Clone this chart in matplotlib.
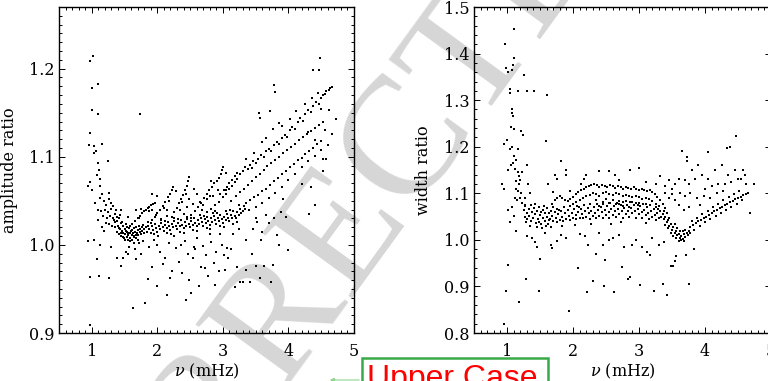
import matplotlib
matplotlib.use("Agg")
import matplotlib.pyplot as plt
from matplotlib.patches import Rectangle, FancyArrowPatch
from matplotlib.ticker import MultipleLocator

# ---- amplitude ratio panel (nu in mHz, ratio) ----
amp_lowfreq = [(0.97,1.209),(1.02,1.214),(1.01,1.178),(1.10,1.183),(1.01,1.153),(1.09,1.149),(0.97,1.127),
    (0.96,1.113),(1.03,1.112),(1.06,1.106),(1.04,1.104),(1.16,1.115),(1.10,1.093),(1.24,1.095),(1.11,1.085),
    (1.08,1.079),(1.13,1.075),(0.94,1.067),(0.98,1.071),(1.00,1.062),(1.13,1.067),(1.15,1.058),(1.26,1.059),
    (1.12,1.053),(1.05,1.048),(1.18,1.050),(1.22,1.045),(1.27,1.052),(1.30,1.048),(1.09,1.040),(1.14,1.038),
    (1.20,1.040),(1.25,1.037),(1.29,1.041),(1.33,1.044),(1.17,1.033),(1.23,1.030),(1.28,1.033),(1.32,1.030),
    (1.36,1.035),(1.10,1.028),(1.21,1.025),(1.26,1.024),(1.31,1.022),(1.35,1.026),(1.15,1.020),(1.19,1.016),
    (0.94,1.004),(1.03,1.006),(1.12,1.000),(0.97,0.964),(0.98,0.909),(1.08,0.984),(1.11,0.965),(1.26,0.962),
    (1.30,0.998),(1.38,0.985),(1.73,1.149)]

amp_band = [(1.36,1.020),(1.38,1.027),(1.39,1.015),(1.40,1.022),(1.41,1.030),(1.42,1.012),(1.43,1.018),
    (1.44,1.025),(1.45,1.010),(1.46,1.016),(1.47,1.021),(1.48,1.013),(1.49,1.008),(1.50,1.018),(1.51,1.012),
    (1.52,1.024),(1.53,1.009),(1.54,1.015),(1.55,1.011),(1.56,1.006),(1.57,1.019),(1.58,1.013),(1.59,1.008),
    (1.60,1.016),(1.61,1.011),(1.62,1.005),(1.63,1.014),(1.64,1.019),(1.65,1.010),(1.66,1.015),(1.67,1.008),
    (1.68,1.020),(1.69,1.013),(1.70,1.017),(1.71,1.011),(1.72,1.022),(1.73,1.015),(1.74,1.018),(1.75,1.012),
    (1.76,1.020),(1.77,1.016),(1.78,1.023),(1.79,1.018),(1.80,1.014),(1.44,1.014),(1.47,1.009),(1.50,1.006),
    (1.53,1.020),(1.56,1.014),(1.59,1.021),(1.62,1.017),(1.65,1.002),(1.68,1.011),(1.71,1.017),(1.46,1.026),
    (1.52,1.016),(1.58,1.004),(1.64,1.009),(1.70,1.006),(1.41,1.019),(1.38,1.032),(1.43,1.034),(1.37,1.040),
    (1.34,1.028),(1.82,1.020),(1.84,1.015),(1.86,1.022),(1.88,1.018),(1.90,1.013),(1.92,1.021),(1.94,1.017),
    (1.96,1.024),(1.98,1.019),(2.00,1.015),(2.02,1.022),(2.04,1.018),(2.06,1.025),(2.08,1.020),(2.10,1.016),
    (2.12,1.023),(2.14,1.019),(2.16,1.026),(2.18,1.021),(2.20,1.017),(2.22,1.024),(2.24,1.020),(2.26,1.027),
    (2.28,1.022),(2.30,1.018),(2.32,1.025),(2.34,1.021),(2.36,1.028),(2.38,1.023),(2.40,1.019),(2.42,1.026),
    (2.44,1.022),(2.46,1.029),(2.48,1.024),(2.50,1.020),(2.52,1.027),(2.54,1.023),(2.56,1.030),(2.58,1.025),
    (2.60,1.021),(2.62,1.028),(2.64,1.024),(2.66,1.031),(2.68,1.026),(2.70,1.022),(2.72,1.029),(2.74,1.025),
    (2.76,1.032),(2.78,1.027),(2.80,1.023),(2.82,1.030),(2.84,1.026),(2.86,1.033),(2.88,1.028),(2.90,1.024),
    (2.92,1.031),(2.94,1.027),(2.96,1.034),(2.98,1.029),(3.00,1.025),(3.02,1.032),(3.04,1.028),(3.06,1.035),
    (3.08,1.030),(3.10,1.027),(3.12,1.034),(3.14,1.031),(3.16,1.038),(3.18,1.033),(3.20,1.030),(3.22,1.037),
    (3.24,1.034),(3.26,1.041),(3.28,1.036),(3.30,1.039),(3.32,1.044),(3.34,1.041),(3.36,1.047),(1.85,1.026),
    (1.95,1.012),(2.05,1.028),(2.15,1.013),(2.25,1.031),(2.35,1.015),(2.45,1.032),(2.55,1.017),(2.65,1.034),
    (2.75,1.019),(2.85,1.036),(2.95,1.021),(3.05,1.038),(3.15,1.024),(3.25,1.045),(1.91,1.025),(2.11,1.027),
    (2.31,1.029),(2.51,1.031),(2.71,1.033),(2.91,1.036),(3.11,1.040),(2.01,1.010),(2.21,1.012),(2.41,1.014),
    (2.61,1.016),(2.81,1.018),(3.01,1.020),(3.21,1.026)]

amp_ridges = [(1.62,1.024),(1.66,1.027),(1.70,1.030),(1.73,1.033),(1.76,1.036),(1.79,1.038),(1.82,1.040),
    (1.85,1.042),(1.88,1.043),(1.91,1.045),(1.94,1.046),(1.97,1.048),(1.75,1.041),(1.87,1.038),(1.92,1.040),
    (1.92,1.028),(1.96,1.032),(2.00,1.036),(2.04,1.040),(2.08,1.044),(2.12,1.049),(2.16,1.054),(2.19,1.058),
    (2.22,1.062),(2.24,1.066),(2.10,1.042),(2.18,1.050),(2.22,1.032),(2.26,1.037),(2.30,1.042),(2.33,1.047),
    (2.36,1.052),(2.39,1.057),(2.42,1.062),(2.45,1.067),(2.47,1.072),(2.49,1.077),(2.38,1.049),(2.44,1.058),
    (2.52,1.034),(2.57,1.038),(2.62,1.043),(2.67,1.048),(2.71,1.053),(2.75,1.058),(2.79,1.062),(2.83,1.066),
    (2.87,1.070),(2.91,1.073),(2.94,1.076),(2.97,1.080),(2.99,1.085),(2.70,1.045),(2.80,1.055),(2.75,1.037),
    (2.82,1.041),(2.88,1.045),(2.94,1.049),(3.00,1.054),(3.05,1.058),(3.10,1.063),(3.14,1.067),(3.18,1.071),
    (3.22,1.075),(2.05,1.029),(2.15,1.033),(2.25,1.037),(2.35,1.040),(2.45,1.043),(2.55,1.046),(2.65,1.049),
    (2.75,1.052),(2.85,1.055),(2.95,1.058),(3.05,1.062)]

amp_fan = [(3.02,1.062),(3.06,1.066),(3.10,1.070),(3.14,1.074),(3.18,1.078),(3.22,1.082),(3.26,1.080),
    (3.30,1.084),(3.34,1.088),(3.38,1.086),(3.42,1.091),(3.46,1.095),(3.50,1.093),(3.54,1.098),(3.58,1.102),
    (3.62,1.100),(3.66,1.106),(3.70,1.109),(3.74,1.107),(3.78,1.113),(3.82,1.117),(3.86,1.115),(3.90,1.121),
    (3.94,1.125),(3.98,1.123),(4.02,1.130),(4.06,1.134),(4.10,1.132),(4.14,1.139),(4.18,1.144),(4.22,1.141),
    (4.26,1.149),(4.30,1.153),(4.34,1.151),(4.38,1.158),(4.42,1.162),(4.46,1.160),(4.50,1.167),(4.56,1.171),
    (4.62,1.176),(4.66,1.179),(3.20,1.055),(3.26,1.060),(3.32,1.064),(3.38,1.068),(3.44,1.073),(3.50,1.077),
    (3.56,1.081),(3.62,1.085),(3.68,1.089),(3.74,1.093),(3.80,1.096),(3.86,1.100),(3.92,1.104),(3.98,1.108),
    (4.04,1.111),(4.10,1.115),(4.16,1.119),(4.22,1.122),(4.28,1.126),(4.34,1.129),(4.40,1.133),(4.46,1.136),
    (4.52,1.139),(3.36,1.048),(3.42,1.051),(3.48,1.054),(3.54,1.057),(3.60,1.061),(3.66,1.064),(3.72,1.068),
    (3.78,1.072),(3.84,1.076),(3.90,1.080),(3.96,1.084),(4.02,1.088),(4.08,1.092),(4.14,1.096),(4.20,1.099),
    (4.26,1.103),(4.32,1.107),(4.38,1.110),(4.44,1.114),(4.50,1.118),(3.40,1.040),(3.50,1.043),(3.60,1.047),
    (3.70,1.053),(3.80,1.059),(3.90,1.066),(4.00,1.074),(4.10,1.081),(4.20,1.088),(4.30,1.095),(4.40,1.101),
    (4.50,1.108),(4.58,1.098),(4.60,1.113),(4.48,1.212),(4.47,1.198),(4.37,1.199),(4.63,1.178),(4.58,1.175),
    (4.53,1.170),(3.78,1.182),(3.79,1.174),(3.55,1.150),(3.56,1.144),(3.72,1.152),(3.85,1.138),(4.73,1.143),
    (4.67,1.126),(4.56,1.130),(4.50,1.154),(4.62,1.153),(4.41,1.119),(4.30,1.128),(4.53,1.097),(4.52,1.084),
    (4.20,1.069),(4.34,1.066),(4.41,1.045),(4.32,1.035),(4.00,0.994),(3.92,1.052),(3.96,1.032),(3.78,1.030),
    (3.70,1.025),(3.65,1.034),(3.52,1.026),(3.60,1.015),(3.88,1.037),(3.82,1.011),(3.46,1.018),(3.50,1.030),
    (3.45,1.087),(3.35,1.098),(3.48,1.104),(3.60,1.117),(3.66,1.121),(3.77,1.131),(3.90,1.135),(4.03,1.143),
    (4.12,1.152),(4.25,1.160),(4.36,1.167),(4.45,1.172)]

amp_scatter = [(1.45,0.976),(1.48,0.985),(1.52,0.992),(1.57,0.998),(1.63,0.928),(1.66,0.995),(1.68,0.984),
    (1.72,1.002),(1.75,0.990),(1.81,0.934),(1.86,0.961),(1.88,0.998),(1.95,1.005),(1.99,0.953),(2.04,0.992),
    (2.08,0.978),(2.12,0.985),(2.15,0.943),(2.18,1.002),(2.22,0.970),(2.28,0.996),(2.33,0.981),(2.38,0.968),
    (2.42,1.004),(2.44,0.937),(2.47,0.990),(2.52,0.945),(2.55,0.985),(2.58,0.995),(2.63,0.953),(2.66,0.975),
    (2.70,0.999),(2.74,0.988),(2.78,0.965),(2.82,1.003),(2.86,0.980),(2.90,0.992),(2.94,0.970),(2.98,1.000),
    (3.03,0.972),(3.08,0.985),(3.12,0.995),(3.18,0.952),(3.22,0.975),(3.26,0.958),(3.30,0.958),(3.36,0.972),
    (3.42,0.958),(3.50,0.976),(3.56,0.962),(3.62,0.976),(3.73,0.958),(3.76,0.977),(3.86,1.000),(2.25,1.010),
    (2.60,1.008),(2.95,1.012),(3.15,1.012),(3.35,1.005),(1.92,0.975),(2.48,0.960),(2.88,0.954),(3.07,0.996),
    (3.45,0.990),(3.58,1.005),(2.72,0.974),(2.36,1.000),(2.00,1.000),(1.78,1.004),(1.56,0.990),(3.25,1.018),
    (2.80,1.012),(2.20,0.962),(2.56,0.998),(3.02,0.988),(1.45,1.040),(1.55,1.032),(1.92,1.058),(2.00,1.055),
    (2.28,1.061),(2.56,1.064),(2.82,1.072),(3.00,1.088),(3.04,1.082),(2.60,1.058),(2.40,1.035),(1.98,1.034),
    (1.68,1.040),(2.15,1.040),(2.48,1.052),(2.92,1.062),(3.12,1.050),(1.72,1.030),(2.68,1.040),(2.88,1.038)]

# ---- width ratio panel ----
wid_lowfreq = [(1.11,1.453),(0.97,1.42),(1.10,1.39),(1.09,1.375),(1.08,1.365),(1.02,1.36),(0.98,1.37),
    (1.05,1.324),(1.04,1.315),(1.26,1.354),(1.16,1.32),(1.31,1.32),(1.41,1.32),(1.61,1.31),(1.07,1.28),
    (1.09,1.266),(1.08,1.272),(1.21,1.233),(1.24,1.225),(1.06,1.243),(1.10,1.238),(0.96,1.206),(1.00,1.215),
    (1.04,1.195),(1.07,1.200),(1.16,1.195),(1.11,1.18),(1.14,1.172),(1.59,1.212),(1.06,1.16),(1.09,1.165),
    (1.16,1.146),(1.12,1.152),(1.31,1.16),(1.13,1.126),(1.18,1.138),(0.93,1.12),(1.18,1.12),(1.21,1.10),
    (1.14,1.11),(1.17,1.105),(1.23,1.145),(1.20,1.128),(1.02,1.15),(0.95,1.11),(1.12,1.09),(1.15,1.085),
    (1.19,1.09),(1.22,1.08),(1.08,1.07),(1.02,1.065),(1.27,1.09),(1.32,1.12),(1.28,1.075),(1.35,1.10),
    (1.10,1.052),(1.05,1.038)]

wid_scatter = [(0.95,0.82),(0.99,0.89),(1.02,0.947),(1.18,0.866),(1.29,0.915),(1.48,0.89),(1.50,0.958),
    (1.14,1.02),(1.31,1.008),(1.43,0.995),(1.66,0.99),(1.94,0.847),(2.07,0.94),(2.22,0.99),(2.30,0.911),
    (2.21,0.889),(2.47,0.90),(2.49,0.956),(2.35,0.97),(2.62,0.888),(2.74,0.942),(2.87,0.92),(2.83,0.915),
    (3.02,0.904),(3.16,0.968),(3.22,0.89),(3.36,0.905),(3.42,0.882),(3.49,0.944),(3.56,0.966),(3.76,0.905),
    (3.71,0.967),(3.83,0.98),(3.52,0.944),(3.54,0.955),(1.38,1.005),(1.45,0.985),(1.68,0.982),(1.82,1.01),
    (1.90,1.005),(2.10,1.012),(2.18,1.008),(2.40,1.015),(2.55,1.0),(2.60,1.005),(2.70,1.01),(2.90,0.99),
    (2.95,1.0),(3.05,0.985),(3.12,0.975),(3.20,1.005),(3.30,0.99),(2.78,0.985),(2.45,0.99),(1.58,1.015),
    (1.75,0.998),(3.38,0.995)]

wid_band = [(1.25,1.065),(1.27,1.050),(1.28,1.072),(1.30,1.058),(1.31,1.044),(1.33,1.066),(1.34,1.052),
    (1.36,1.075),(1.37,1.040),(1.38,1.060),(1.40,1.048),(1.41,1.068),(1.43,1.055),(1.44,1.037),(1.45,1.062),
    (1.47,1.045),(1.48,1.070),(1.50,1.053),(1.51,1.033),(1.52,1.060),(1.54,1.047),(1.55,1.065),(1.57,1.040),
    (1.58,1.057),(1.60,1.050),(1.61,1.068),(1.62,1.035),(1.64,1.058),(1.65,1.045),(1.67,1.063),(1.68,1.052),
    (1.70,1.040),(1.35,1.030),(1.42,1.078),(1.49,1.038),(1.56,1.072),(1.63,1.043),(1.69,1.070),(1.29,1.038),
    (1.46,1.028),(1.53,1.025),(1.59,1.030),(1.66,1.028),(1.72,1.060),(1.74,1.048),(1.76,1.067),(1.78,1.055),
    (1.80,1.043),(1.82,1.062),(1.84,1.050),(1.86,1.070),(1.88,1.057),(1.90,1.045),(1.92,1.064),(1.94,1.052),
    (1.96,1.072),(1.98,1.058),(2.00,1.047),(2.02,1.066),(2.04,1.054),(2.06,1.073),(2.08,1.060),(2.10,1.048),
    (2.12,1.067),(2.14,1.055),(2.16,1.075),(2.18,1.062),(2.20,1.050),(2.22,1.069),(2.24,1.057),(2.26,1.076),
    (2.28,1.063),(2.30,1.051),(2.32,1.070),(2.34,1.058),(2.36,1.077),(2.38,1.064),(2.40,1.052),(2.42,1.071),
    (2.44,1.059),(2.46,1.078),(2.48,1.065),(2.50,1.053),(2.52,1.072),(2.54,1.060),(2.56,1.079),(2.58,1.066),
    (2.60,1.054),(2.62,1.073),(2.64,1.061),(2.66,1.080),(2.68,1.067),(2.70,1.055),(2.72,1.074),(2.74,1.062),
    (2.76,1.081),(2.78,1.068),(2.80,1.056),(2.82,1.075),(2.84,1.063),(2.86,1.082),(2.88,1.069),(2.90,1.057),
    (2.92,1.075),(2.94,1.062),(2.96,1.080),(2.98,1.067),(3.00,1.055),(3.02,1.073),(3.04,1.060),(3.06,1.078),
    (3.08,1.065),(3.10,1.053),(3.12,1.070),(3.14,1.058),(3.16,1.075),(3.18,1.062),(3.20,1.050),(3.22,1.066),
    (3.24,1.054),(3.26,1.070),(3.28,1.058),(3.30,1.046),(3.32,1.062),(3.34,1.050),(1.75,1.038),(1.85,1.040),
    (1.95,1.042),(2.05,1.044),(2.15,1.046),(2.25,1.045),(2.35,1.047),(2.45,1.048),(2.55,1.046),(2.65,1.049),
    (2.75,1.047),(2.85,1.050),(2.95,1.048),(3.05,1.046),(3.15,1.044),(3.25,1.042),(1.79,1.064),(2.09,1.070),
    (2.39,1.073),(2.69,1.076),(2.99,1.074),(3.29,1.066),(1.83,1.030),(2.27,1.035),(2.73,1.038),(3.11,1.036),
    (2.57,1.034),(2.03,1.032)]

wid_arch = [(1.68,1.078),(1.72,1.085),(1.76,1.090),(1.80,1.094),(1.84,1.090),(1.88,1.086),(1.92,1.083),
    (1.96,1.088),(2.00,1.093),(2.04,1.098),(2.08,1.102),(2.12,1.106),(2.16,1.110),(2.20,1.113),(2.24,1.116),
    (2.28,1.118),(2.32,1.120),(2.36,1.117),(2.40,1.114),(2.44,1.118),(2.48,1.116),(2.52,1.113),(2.56,1.117),
    (2.60,1.115),(2.64,1.112),(2.68,1.116),(2.72,1.114),(2.76,1.110),(2.80,1.114),(2.84,1.112),(2.88,1.109),
    (2.92,1.113),(2.96,1.110),(3.00,1.107),(3.04,1.110),(3.08,1.107),(3.12,1.104),(3.16,1.106),(3.20,1.103),
    (3.24,1.098),(3.28,1.092),(3.32,1.085),(3.36,1.077),(3.40,1.068),(2.00,1.078),(2.05,1.082),(2.10,1.086),
    (2.15,1.090),(2.20,1.094),(2.25,1.097),(2.30,1.100),(2.35,1.098),(2.40,1.095),(2.45,1.100),(2.50,1.102),
    (2.55,1.099),(2.60,1.096),(2.65,1.100),(2.70,1.098),(2.75,1.094),(2.80,1.097),(2.85,1.095),(2.90,1.091),
    (2.95,1.094),(3.00,1.091),(3.05,1.088),(3.10,1.090),(3.15,1.087),(3.20,1.083),(3.25,1.078),(3.30,1.072),
    (2.35,1.085),(2.45,1.082),(2.55,1.079),(2.65,1.076),(2.75,1.073),(2.85,1.070),(2.50,1.088),(2.60,1.086),
    (2.70,1.084),(2.80,1.083),(2.90,1.082),(3.00,1.080),(3.10,1.078),(1.72,1.14),(1.75,1.13),(1.82,1.17),
    (1.90,1.15),(1.89,1.14),(2.16,1.13),(2.20,1.14),(2.40,1.148),(2.55,1.147),(2.63,1.14),(2.87,1.15),
    (3.00,1.155),(3.32,1.137),(3.45,1.128),(2.12,1.12),(1.62,1.12),(1.70,1.102),(1.95,1.105),(2.70,1.128),
    (3.10,1.125),(3.25,1.12),(3.40,1.115),(3.50,1.098),(3.55,1.085)]

wid_dip = [(3.36,1.055),(3.38,1.045),(3.40,1.050),(3.42,1.038),(3.44,1.042),(3.46,1.030),(3.48,1.035),
    (3.50,1.022),(3.52,1.028),(3.54,1.015),(3.56,1.020),(3.58,1.010),(3.60,1.013),(3.62,1.005),(3.64,1.009),
    (3.66,1.002),(3.68,1.012),(3.70,1.006),(3.72,1.015),(3.74,1.010),(3.76,1.020),(3.78,1.014),(3.48,1.015),
    (3.52,1.008),(3.56,1.003),(3.60,0.998),(3.64,1.000),(3.68,0.998),(3.44,1.025),(3.40,1.032),(3.58,1.025),
    (3.62,1.020),(3.66,1.018),(3.70,1.022),(3.46,1.048),(3.54,1.035),(3.38,1.062),(3.42,1.058)]

wid_rise = [(3.78,1.028),(3.82,1.032),(3.86,1.036),(3.90,1.040),(3.94,1.043),(3.98,1.047),(4.02,1.050),
    (4.06,1.054),(4.10,1.058),(4.14,1.061),(4.18,1.064),(4.22,1.068),(4.26,1.071),(4.30,1.074),(4.34,1.078),
    (4.38,1.081),(4.42,1.084),(4.46,1.087),(4.50,1.090),(4.54,1.093),(4.58,1.096),(4.62,1.099),(3.80,1.040),
    (3.88,1.048),(3.96,1.055),(4.04,1.062),(4.12,1.070),(4.20,1.078),(4.28,1.085),(4.36,1.092),(4.44,1.098),
    (4.52,1.104),(3.84,1.022),(3.92,1.030),(4.00,1.038),(4.08,1.045),(4.16,1.052),(4.24,1.058),(4.32,1.065),
    (4.40,1.070),(4.48,1.078),(4.56,1.085),(4.74,1.120),(4.68,1.058),(3.73,1.178),(3.72,1.17),(4.04,1.189),
    (4.34,1.197),(4.47,1.223),(4.38,1.200),(3.65,1.19),(3.69,1.128),(3.80,1.15),(3.90,1.16),(3.95,1.14),
    (4.05,1.13),(4.15,1.15),(4.25,1.16),(4.35,1.14),(4.45,1.15),(4.55,1.13),(4.62,1.12),(3.60,1.13),
    (3.55,1.12),(3.75,1.12),(3.85,1.13),(4.00,1.11),(4.10,1.115),(4.20,1.12),(4.30,1.12),(4.40,1.125),
    (4.50,1.13),(4.58,1.15),(3.62,1.10),(3.70,1.095),(3.78,1.10),(3.88,1.09),(3.98,1.095),(4.08,1.09),
    (4.18,1.10),(4.28,1.105),(3.50,1.11),(3.40,1.10),(3.45,1.09),(3.60,1.075),(3.68,1.065),(3.76,1.07),
    (3.92,1.075),(4.60,1.14),(4.65,1.10)]

amp_yticks = [0.9, 1.0, 1.1, 1.2]
wid_yticks = [0.8, 0.9, 1.0, 1.1, 1.2, 1.3, 1.4, 1.5]
nu_ticks = [1, 2, 3, 4, 5]

plt.rcParams['font.family'] = ['DejaVu Serif']
plt.rcParams['mathtext.fontset'] = 'dejavuserif'

fig = plt.figure(figsize=(7.68, 3.81), dpi=100)
W, H = 768.0, 381.0

# watermark behind everything
fig.text(338/W, 1 - 238/H, 'CORRECTED', rotation=54, fontsize=122, color='#d6d6d6',
         family='Liberation Serif', ha='center', va='center', zorder=-5)

ax1 = fig.add_axes([59/W, 1 - 333/H, 295/W, 326/H])
ax2 = fig.add_axes([474/W, 1 - 333/H, 297/W, 326/H])


def draw_panel(ax, groups, ylim, yticks, yminor, ylabel):
    ax.set_facecolor('none')
    for g in groups:
        xs, ys = zip(*g)
        ax.scatter(xs, ys, s=3, marker='s', c='k', linewidths=0)
    ax.set_xlim(0.5, 5)
    ax.set_ylim(*ylim)
    ax.set_xticks(nu_ticks)
    ax.set_yticks(yticks)
    ax.set_yticklabels([f'{t:.1f}' for t in yticks])
    ax.xaxis.set_minor_locator(MultipleLocator(0.1))
    ax.yaxis.set_minor_locator(MultipleLocator(yminor))
    ax.tick_params(which='both', direction='in', top=True, right=True, width=0.7, labelsize=11.5)
    ax.tick_params(which='major', length=4.5)
    ax.tick_params(which='minor', length=2.3)
    ax.tick_params(axis='x', pad=7)
    ax.tick_params(axis='y', pad=3)
    for sp in ax.spines.values():
        sp.set_linewidth(1.0)
    ax.set_xlabel(r'$\nu$ (mHz)', fontsize=11.5)
    ax.set_ylabel(ylabel, fontsize=11.5)
    ax.xaxis.set_label_coords(0.5, -0.088)
    ax.yaxis.set_label_coords(-0.14, 0.5)


draw_panel(ax1, [amp_lowfreq, amp_band, amp_ridges, amp_fan, amp_scatter],
           (0.9, 1.27), amp_yticks, 0.01, 'amplitude ratio')
draw_panel(ax2, [wid_lowfreq, wid_scatter, wid_band, wid_arch, wid_dip, wid_rise],
           (0.8, 1.5), wid_yticks, 0.02, 'width ratio')

# annotation box at the bottom
box = Rectangle((362/W, -0.1), (548 - 362)/W, 0.1 + (381 - 358)/H, transform=fig.transFigure,
                fill=False, edgecolor='#3aaa48', linewidth=1.8)
fig.add_artist(box)
fig.text(367/W, (381 - 387)/H, 'Upper Case', color='#ff0000', fontsize=23,
         family='Liberation Sans', ha='left', va='baseline')
arrow = FancyArrowPatch((362/W, 1 - 380/H), (327/W, 1 - 380/H), transform=fig.transFigure,
                        arrowstyle='-|>', mutation_scale=6, color='#8fd48f', linewidth=0.8)
fig.add_artist(arrow)

fig.savefig('out.png', dpi=100)
